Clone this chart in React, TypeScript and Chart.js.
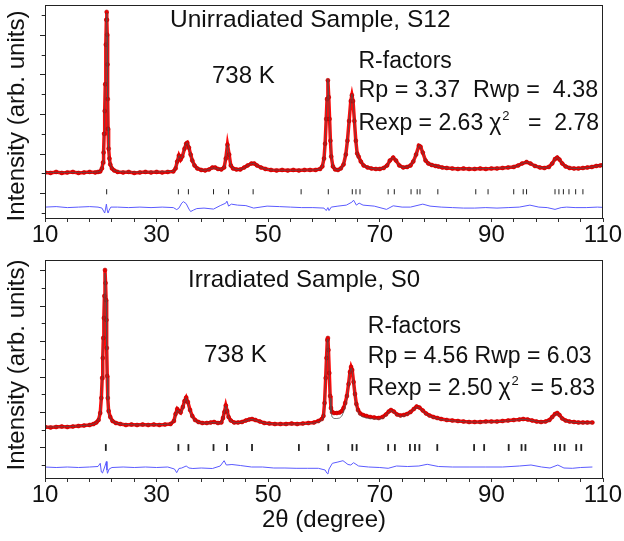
import React, { useEffect, useRef } from "react";
import { Chart, registerables } from "chart.js";

Chart.register(...registerables);

const FONT = '"Liberation Sans", Arial, Helvetica, sans-serif';

// ---------- shared axis data ----------
const xTicks = [10, 14, 18, 22, 26, 30, 34, 38, 42, 46, 50, 54, 58, 62, 66, 70, 74, 78, 82, 86, 90, 94, 98, 102, 106, 110];
const xTickLabels = [10, 30, 50, 70, 90, 110];

// ---------- top panel: Unirradiated Sample, S12 ----------
const topYTicks = [5, 25, 45, 65, 85, 105, 125, 145, 165, 185, 205];

const top2theta = [
  10, 11, 12, 13, 14, 15, 16, 17, 18, 19,
  19.5, 19.9, 20.2, 20.4, 20.5, 20.6, 20.7, 20.8, 20.9, 21.0,
  21.05, 21.1, 21.15, 21.2, 21.25, 21.3, 21.4, 21.55, 21.7, 22.0, 22.4,
  23, 24, 25, 26, 27, 28, 29, 30, 31, 32, 33,
  33.4, 33.7, 34.0, 34.3, 34.6, 35.0, 35.3, 35.5, 35.8, 36.1, 36.4, 36.8, 37.3,
  38, 38.7, 39.4, 40.0, 40.5, 41.0, 41.6, 42.1, 42.4, 42.7, 43.0, 43.3, 43.7,
  44.3, 45.0, 45.7, 46.3, 47.0, 47.5, 48.0, 48.7, 49.5,
  50.5, 51.5, 52.5, 53.5, 54.5, 55.5, 56.5, 57.5, 58.5,
  59.3, 59.7, 60.0, 60.2, 60.4, 60.55, 60.7, 60.85, 61.0, 61.15, 61.3, 61.6,
  62.0, 62.5, 63.0, 63.5, 63.9, 64.2, 64.5, 64.8, 65.0, 65.2, 65.45, 65.7, 65.95, 66.2,
  66.6, 67.1, 67.8, 68.5, 69.3, 70.0, 70.7, 71.3, 71.8, 72.4, 72.9, 73.5, 74.2, 74.9,
  75.5, 76.0, 76.5, 77.0, 77.3, 77.7, 78.2, 78.7, 79.3, 80.0, 80.5, 81.2,
  82, 83, 84, 85, 86, 87, 88, 89, 90, 91, 92, 93, 94,
  94.8, 95.5, 96.3, 97.0, 97.8, 98.7, 99.5, 100.3, 100.9, 101.4, 101.8, 102.2, 102.7, 103.3,
  104.0, 104.8, 105.6, 106.4, 107.2, 108.0, 108.8, 109.5, 110,
];
const topObs = [
  46, 45.5, 46.5, 45.5, 46, 46.5, 45.5, 46, 46.5, 46,
  46.5, 47, 50, 56, 66, 85, 108, 135, 175, 200,
  208, 200, 185, 155, 120, 90, 70, 60, 54, 50, 48,
  46.5, 46, 46.5, 45.5, 46, 46.5, 46, 46.5, 46, 46.5, 47,
  50, 57, 63, 59, 62, 70, 75, 76, 71, 64, 58, 53, 50,
  48.5, 48, 49, 51, 51, 49.5, 49, 51, 60, 74, 64, 53, 50,
  49, 49, 51, 53, 55, 55, 53, 51, 49.5,
  48.5, 48, 48.5, 48, 48.5, 48, 48.5, 48.5, 48.5,
  49.5, 52, 60, 75, 100, 120, 139, 122, 100, 78, 62, 52,
  49, 48.5, 50, 54, 64, 78, 98, 118, 124, 118, 98, 78, 65, 62,
  57, 53, 51, 50, 49.5, 49.5, 50.5, 53, 58, 61, 58, 53, 51, 51.5,
  53, 57, 64, 73, 72, 66, 58, 55, 53.5, 52.5, 52, 51,
  50.5, 50, 49.5, 50, 49.5, 49.5, 50, 49.5, 50, 50, 50.5, 51, 51.5,
  53, 55, 56.5, 55, 52.5, 51, 50.5, 51.5, 55, 59.5, 61, 59, 55, 52,
  50.5, 50, 50, 50.5, 51, 51.5, 52.5, 53, 53.5,
];
const topCalc = [
  46, 46, 46, 46, 46, 46, 46, 46, 46, 46.2,
  46.5, 47, 50, 56, 66, 85, 108, 136, 174, 200,
  207, 200, 184, 155, 121, 91, 71, 60, 54, 50, 48,
  47, 46.5, 46.3, 46.2, 46.2, 46.3, 46.4, 46.5, 46.6, 46.8, 47.2,
  50, 57, 63, 60, 62, 70, 75, 76, 71, 64, 58, 53, 50,
  48.5, 48.2, 49, 50.5, 50.5, 49.5, 49, 51, 60, 74, 64, 53, 50,
  49, 49, 50.5, 53, 55, 55, 53, 51, 49.5,
  48.5, 48.3, 48.2, 48.2, 48.2, 48.2, 48.3, 48.4, 48.6,
  49.5, 52, 60, 76, 100, 121, 140, 122, 100, 78, 62, 52,
  49, 48.5, 49.5, 54, 64, 78, 98, 118, 125, 118, 98, 78, 65, 61,
  57, 53, 51, 50, 49.5, 49.5, 50.5, 53, 58, 61, 58, 53, 51, 51.5,
  53, 57, 64, 73, 72, 66, 58, 55, 53.5, 52.5, 52, 51,
  50.5, 50, 49.8, 49.7, 49.7, 49.7, 49.8, 49.9, 50, 50.2, 50.5, 51, 51.5,
  53, 55, 56.5, 55, 52.5, 51, 50.5, 51.5, 55, 59.5, 61, 59, 55, 52,
  50.5, 50, 50, 50.3, 50.8, 51.5, 52.3, 53, 53.5,
];
const topDiff2theta = [
  10, 12, 14, 16, 18, 19.5, 20.2, 20.5, 20.7, 20.85, 21.0, 21.15, 21.3, 21.5, 21.8,
  23, 25, 27, 29, 31, 33, 33.6, 34.0, 34.5, 34.8, 35.3, 35.8, 36.1, 36.6, 37.2, 38.5,
  40.2, 41.4, 42.4, 42.6, 42.9, 43.4, 44.5, 46, 47.4, 49.8, 52, 54, 56, 58,
  60.0, 60.4, 60.7, 60.9, 61.3, 62.5, 64.0, 65.0, 65.3, 65.8, 66.3, 67, 69,
  71.2, 72.4, 74, 75.5, 77.7, 79, 81, 83, 85, 87, 89, 91, 93, 95, 96.9, 98.5,
  100, 101.4, 102.5, 103.5, 105, 107, 109, 110,
];
const topDiff = [
  11, 11.5, 10.5, 11, 11.5, 11, 10, 7, 5, 9, 14, 8, 5, 8, 11,
  11, 10.5, 11, 10.5, 11, 10.5, 8.5, 10, 15, 16.5, 14.5, 9, 6.5, 8, 9.5, 10,
  9, 12.5, 15, 17, 12, 14, 13, 12.5, 10, 12, 11.5, 11, 10.5, 10.5,
  10, 7.5, 10.5, 7.5, 11, 12, 13, 16, 18, 13, 15, 13, 12,
  8.7, 12.3, 11, 11, 14, 12, 11, 10.5, 10, 10, 10.5, 10, 10.5, 11, 13, 11,
  10.5, 8.7, 10.5, 11, 10.5, 10.5, 11, 10.7,
];
const topBragg = [
  21.05, 33.9, 35.7, 40.2, 42.9, 47.3, 55.9, 60.77, 65.07, 65.73, 66.45, 71.5, 72.6, 75.6,
  76.7, 77.2, 80.4, 87.2, 89.4, 94.0, 95.7, 96.3, 101.4, 102.1, 102.9, 103.9, 105.1, 106.4,
];

// ---------- bottom panel: Irradiated Sample, S0 ----------
const botYTicks = [13, 30.7, 48.4, 66.1, 83.8, 101.5, 119.2, 136.9, 154.6, 172.3, 190, 207.7];

const bot2theta = [
  10, 11, 12, 13, 14, 15, 16, 17, 18, 18.7,
  19.2, 19.6, 19.9, 20.1, 20.25, 20.35, 20.45, 20.55, 20.65, 20.75,
  20.85, 20.95, 21.02, 21.08, 21.15, 21.25, 21.4, 21.7, 22.1, 22.7,
  23.5, 24.5, 25.5, 26.5, 27.5, 28.5, 29.5, 30.5, 31.5, 32.5,
  33.1, 33.4, 33.7, 34.0, 34.3, 34.7, 35.0, 35.3, 35.6, 36.0,
  36.4, 36.9, 37.5, 38.2, 39.0, 39.7, 40.3, 41.0, 41.6, 41.9,
  42.15, 42.4, 42.65, 42.9, 43.3, 43.9, 44.6, 45.3, 46.0, 46.6,
  47.1, 47.7, 48.5, 49.3, 50.2, 51.2, 52.2, 53.2, 54.2, 55.2,
  56.2, 57.2, 58.2, 59.0, 59.6, 59.9, 60.1, 60.3, 60.45, 60.6,
  60.7, 60.8, 60.95, 61.1, 61.25, 61.45, 61.8, 62.3, 62.8, 63.2,
  63.5, 63.8, 64.1, 64.4, 64.65, 64.85, 65.05, 65.3, 65.55, 65.8,
  66.1, 66.5, 67.0, 67.6, 68.3, 69.0, 69.8, 70.5, 71.1, 71.6,
  72.0, 72.5, 73.1, 73.7, 74.3, 74.9, 75.5, 76.1, 76.6, 77.1,
  77.7, 78.3, 78.9, 79.6, 80.3, 81, 82, 83, 84, 85,
  86, 87, 88, 89, 90, 91, 92, 93, 94, 95,
  95.7, 96.5, 97.3, 98.1, 98.9, 99.7, 100.4, 100.9, 101.4, 101.8,
  102.2, 102.7, 103.3, 104.0, 104.8, 105.6, 106.4, 107.2, 108.1,
];
const botObs = [
  51, 50.5, 51, 51.5, 51, 51.5, 52, 52.5, 53, 54,
  55.5, 58, 65, 80, 100, 120, 140, 160, 182, 208,
  195, 178, 158, 130, 102, 80, 67, 61, 57, 55,
  54, 53, 53.5, 53, 53.5, 53, 53.5, 53, 53.5, 54,
  57, 64, 69, 67, 65.5, 71, 77, 80.5, 76, 68,
  62, 58, 56, 55, 55, 55.5, 56, 55, 55.5, 60,
  66, 72.5, 67, 61, 57.5, 55.5, 55.5, 56, 57.5, 58.5,
  59, 58, 56.5, 55, 54.5, 54, 54, 54, 54.5, 54,
  54.5, 55, 55.5, 57, 59, 62, 75, 100, 120, 138,
  140, 128, 105, 82, 70, 66, 65, 65, 65.5, 67,
  70, 75, 82, 94, 106, 111, 108, 96, 84, 74,
  68, 64.5, 63, 62, 61, 60.5, 60, 61, 63.5, 66.5,
  68, 66.5, 63.5, 62.5, 63, 64, 66, 69, 71.5, 70.5,
  67.5, 64.5, 62.5, 61, 60, 59, 58, 57.5, 57, 56.5,
  56, 56, 56, 56.5, 56.5, 56.5, 57, 57.5, 58, 58.5,
  59, 58.5, 57.5, 56.5, 56, 56.5, 58, 61, 64, 65,
  63, 59.5, 57.5, 56.5, 56, 55.5, 55.5, 55.5, 55.5,
];
const botCalc = [
  51, 51, 51.2, 51.3, 51.4, 51.6, 52, 52.5, 53, 54,
  55.5, 58, 65, 80, 100, 121, 141, 162, 184, 205,
  196, 178, 157, 128, 100, 79, 66, 60, 57, 55,
  54, 53.5, 53.3, 53.2, 53.2, 53.2, 53.3, 53.4, 53.6, 54,
  57, 63, 68, 66, 65, 70, 76, 80, 75, 67,
  61, 57.5, 55.5, 54.8, 54.8, 55.2, 55.5, 55, 55.2, 59.5,
  66, 72, 67, 60.5, 57, 55.3, 55.3, 55.8, 57.2, 58.3,
  58.7, 57.8, 56.3, 55, 54.3, 54, 53.8, 53.8, 54, 54,
  54.2, 54.5, 55, 56, 57.5, 61, 74, 99, 120, 138,
  139, 127, 103, 80, 66, 61, 59.5, 59.5, 60, 62,
  66, 72, 80, 93, 105, 110, 107, 95, 82, 72,
  66, 62.5, 61, 60, 59.5, 59, 58.8, 59.5, 62.5, 66,
  67.5, 66, 63, 61.5, 62, 63.5, 66, 69, 71, 70,
  67, 64, 62, 60.5, 59.5, 58.5, 57.8, 57.2, 56.8, 56.3,
  56, 55.8, 55.8, 56, 56.2, 56.3, 56.7, 57.2, 57.8, 58.3,
  58.7, 58.3, 57.5, 56.5, 56, 56.2, 57.5, 60.5, 63.5, 64.5,
  62.5, 59, 57.2, 56.2, 55.7, 55.3, 55.2, 55.2, 55.2,
];
const botDiff2theta = [
  10, 12, 14, 16, 18, 19.5, 19.9, 20.1, 20.3, 20.5, 20.75, 21.0, 21.1, 21.2, 21.5, 22,
  24, 26, 28, 30, 32, 33.2, 33.6, 34.0, 34.5, 35.3, 35.8, 36.5, 38, 40, 41.4, 42.1, 42.5,
  43.5, 45, 47, 49, 51, 53, 55, 57, 59, 60.2, 60.5, 60.7, 60.9, 61.5, 62.5, 63.4, 64.3,
  64.8, 65.3, 66.2, 68, 70, 71.5, 73, 75, 77, 78.5, 80.5, 83, 86, 89, 92, 95, 97.1, 99,
  100.5, 101.9, 103, 104.5, 106, 108.1,
];
const botDiff = [
  11, 10.5, 11, 10.5, 11, 11.5, 14.7, 6, 5, 8, 12, 16.5, 8, 4.7, 9, 10.5,
  11, 10.5, 11, 10.5, 11, 9, 5.3, 9.5, 10, 12, 10, 9.5, 10, 9.5, 12, 17.3, 13,
  13.5, 12.5, 11, 11, 10, 10, 9.7, 9.7, 9.7, 8, 5, 4, 9, 14.7, 16, 17.3, 13.5,
  13, 15.3, 12, 11, 10.5, 9.7, 12, 11.5, 12, 13.7, 11.5, 11, 11, 11, 11, 12, 13, 11,
  10, 13, 10, 9.7, 10.5, 11,
];
const botBragg = [
  20.9, 33.9, 35.7, 40.2, 42.6, 47.1, 55.5, 60.77, 65.07, 65.85, 71.5, 72.7, 75.4, 76.3,
  77.1, 80.3, 86.9, 88.7, 93.1, 95.4, 96.1, 101.4, 102.3, 103.1, 105.2, 106.1,
];

type TextItem = { t: string; x: number; y: number; size: number };

type PanelProps = {
  width: number;
  height: number;
  padTop: number;
  xAxisH: number;
  yMax: number;
  yTicks: number[];
  xs: number[];
  obs: number[];
  calc: number[];
  dxs: number[];
  diff: number[];
  bragg: number[];
  braggY: number;
  braggR: number;
  braggW: number;
  texts: TextItem[];
  chi: { lead: string; tail: string; x: number; y: number; right: number };
  yTitleY: number;
  xTitle?: { t: string; x: number; y: number };
};

function Panel(p: PanelProps) {
  const ref = useRef<HTMLCanvasElement | null>(null);

  useEffect(() => {
    const canvas = ref.current;
    if (!canvas) return;

    const annot = {
      id: "annot",
      afterDraw(chart: any) {
        const { ctx, chartArea: a } = chart;
        const ys = chart.scales.y;
        ctx.save();
        // frame
        ctx.strokeStyle = "#222";
        ctx.lineWidth = 1;
        ctx.strokeRect(a.left + 0.5, a.top + 0.5, a.right - a.left - 1, a.bottom - a.top);
        // y ticks (outside, alternating length)
        p.yTicks.forEach((v, i) => {
          const y = Math.round(ys.getPixelForValue(v)) + 0.5;
          const len = i % 2 === 1 ? 5 : 3.3;
          ctx.beginPath();
          ctx.moveTo(a.left - len, y);
          ctx.lineTo(a.left, y);
          ctx.stroke();
        });
        // texts
        ctx.fillStyle = "#111";
        ctx.textAlign = "left";
        ctx.textBaseline = "alphabetic";
        p.texts.forEach((it) => {
          ctx.font = `${it.size}px ${FONT}`;
          ctx.fillText(it.t, it.x, it.y);
        });
        // Rexp ... chi^2 ... line
        ctx.font = `23px ${FONT}`;
        ctx.fillText(p.chi.lead, p.chi.x, p.chi.y);
        const lw = ctx.measureText(p.chi.lead).width;
        const cx = p.chi.x + lw + 6;
        ctx.fillText("\u03c7", cx, p.chi.y);
        const cw = ctx.measureText("\u03c7").width;
        ctx.font = `13px ${FONT}`;
        ctx.fillText("2", cx + cw + 1, p.chi.y - 10);
        ctx.font = `23px ${FONT}`;
        ctx.textAlign = "right";
        ctx.fillText(p.chi.tail, p.chi.right, p.chi.y);
        ctx.textAlign = "left";
        // y title
        ctx.save();
        ctx.translate(17.5, p.yTitleY);
        ctx.rotate(-Math.PI / 2);
        ctx.textAlign = "center";
        ctx.textBaseline = "middle";
        ctx.font = `24px ${FONT}`;
        ctx.fillText("Intensity (arb. units)", 0, 0);
        ctx.restore();
        if (p.xTitle) {
          ctx.textAlign = "center";
          ctx.textBaseline = "middle";
          ctx.font = `24px ${FONT}`;
          ctx.fillText(p.xTitle.t, p.xTitle.x, p.xTitle.y);
        }
        ctx.restore();
      },
    };

    const chart = new Chart(canvas, {
      type: "scatter",
      data: {
        datasets: [
          {
            label: "calc",
            data: p.xs.map((x, i) => ({ x, y: p.calc[i] })),
            showLine: true,
            borderColor: "rgba(80,80,80,0.85)",
            borderWidth: 0.9,
            pointRadius: 0,
            order: 0,
          },
          {
            label: "obs",
            data: p.xs.map((x, i) => ({ x, y: p.obs[i] })),
            showLine: true,
            borderColor: "#ff0a0a",
            borderWidth: 3.5,
            pointRadius: 2,
            pointBackgroundColor: "#e80000",
            pointBorderColor: "#b00000",
            pointBorderWidth: 0.5,
            order: 1,
          },
          {
            label: "diff",
            data: p.dxs.map((x, i) => ({ x, y: p.diff[i] })),
            showLine: true,
            borderColor: "#5a5aff",
            borderWidth: 1,
            pointRadius: 0,
            order: 2,
          },
          {
            label: "bragg",
            data: p.bragg.map((x) => ({ x, y: p.braggY })),
            showLine: false,
            pointStyle: "line",
            pointRotation: 90,
            pointRadius: p.braggR,
            pointBorderColor: "#222",
            pointBorderWidth: p.braggW,
            order: 3,
          } as any,
        ],
      },
      options: {
        animation: false,
        responsive: false,
        events: [],
        layout: { padding: { top: p.padTop, right: 21, left: 0, bottom: 0 } },
        plugins: { legend: { display: false }, tooltip: { enabled: false } },
        scales: {
          x: {
            type: "linear",
            min: 10,
            max: 110,
            afterBuildTicks: (s: any) => {
              s.ticks = xTicks.map((v) => ({ value: v }));
            },
            afterFit: (s: any) => {
              s.height = p.xAxisH;
            },
            ticks: {
              autoSkip: false,
              maxRotation: 0,
              padding: -1,
              color: "#111",
              font: { family: FONT, size: 24 },
              callback: (v: any) => (xTickLabels.includes(Number(v)) ? String(v) : ""),
            },
            grid: { drawOnChartArea: false, drawTicks: true, tickLength: 4, tickColor: "#333" },
            border: { display: false },
          },
          y: {
            type: "linear",
            min: 0,
            max: p.yMax,
            afterBuildTicks: (s: any) => {
              s.ticks = p.yTicks.map((v) => ({ value: v }));
            },
            afterFit: (s: any) => {
              s.width = 45;
            },
            ticks: { display: false },
            grid: { display: false },
            border: { display: false },
          },
        },
      },
      plugins: [annot],
    } as any);

    return () => chart.destroy();
  }, []);

  return <canvas ref={ref} width={p.width} height={p.height} style={{ display: "block" }} />;
}

export default function App() {
  return (
    <div style={{ position: "absolute", left: 0, top: 0, width: 624, height: 541, background: "#fff" }}>
      <Panel
        width={624}
        height={250}
        padTop={3}
        xAxisH={32}
        yMax={215}
        yTicks={topYTicks}
        xs={top2theta}
        obs={topObs}
        calc={topCalc}
        dxs={topDiff2theta}
        diff={topDiff}
        bragg={topBragg}
        braggY={26.5}
        braggR={2.6}
        braggW={1}
        texts={[
          { t: "Unirradiated Sample, S12", x: 170, y: 27.3, size: 24.5 },
          { t: "738 K", x: 212, y: 83.3, size: 24 },
          { t: "R-factors", x: 358.5, y: 68.3, size: 23 },
          { t: "Rp = 3.37  Rwp =  4.38", x: 358.5, y: 97.3, size: 23.3 },
        ]}
        chi={{ lead: "Rexp = 2.63", tail: "=  2.78", x: 358.5, y: 130, right: 599 }}
        yTitleY={116}
      />
      <Panel
        width={624}
        height={291}
        padTop={10}
        xAxisH={63}
        yMax={218}
        yTicks={botYTicks}
        xs={bot2theta}
        obs={botObs}
        calc={botCalc}
        dxs={botDiff2theta}
        diff={botDiff}
        bragg={botBragg}
        braggY={30.5}
        braggR={3.4}
        braggW={1.8}
        texts={[
          { t: "Irradiated Sample, S0", x: 188, y: 37.3, size: 24 },
          { t: "738 K", x: 204, y: 111.7, size: 24 },
          { t: "R-factors", x: 367.8, y: 83.3, size: 23 },
          { t: "Rp = 4.56 Rwp = 6.03", x: 367.8, y: 113.3, size: 23 },
        ]}
        chi={{ lead: "Rexp = 2.50", tail: "= 5.83", x: 367.8, y: 145, right: 595 }}
        yTitleY={115}
        xTitle={{ t: "2\u03b8 (degree)", x: 324, y: 270 }}
      />
    </div>
  );
}
